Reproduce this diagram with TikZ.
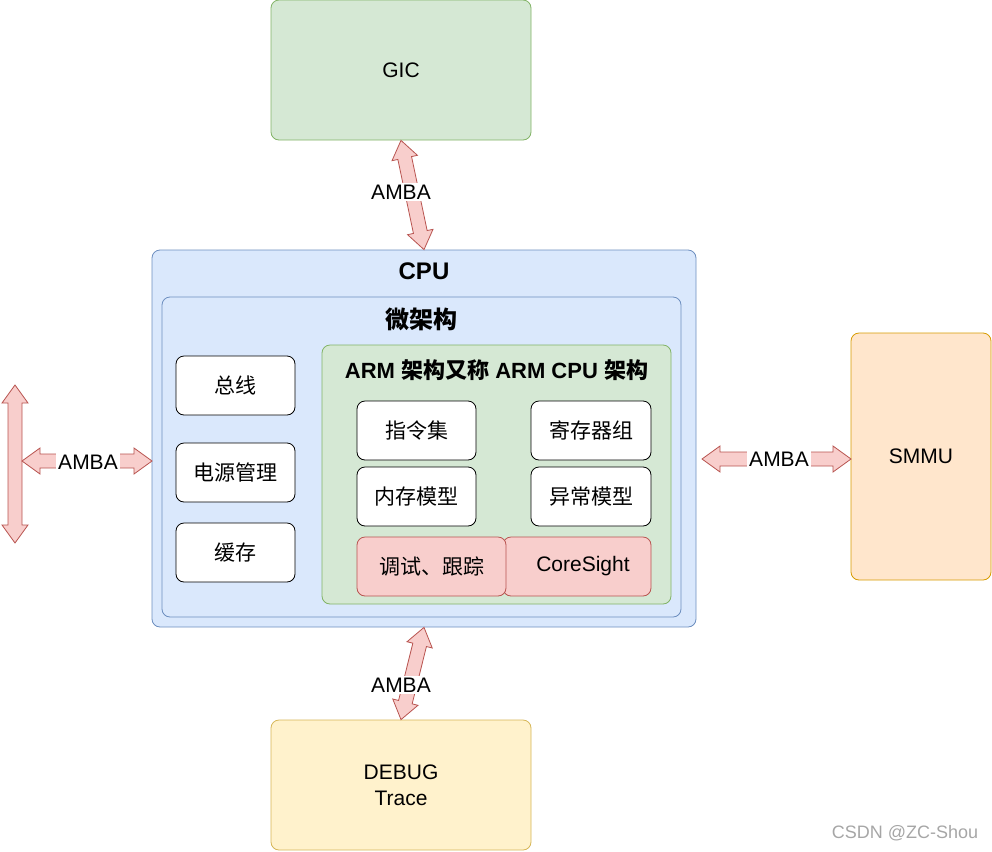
\documentclass[tikz,border=0pt]{standalone}
\usepackage{fontspec}
\setmainfont{Liberation Sans}
\newfontfamily\cjk{Noto Sans CJK SC}
\usetikzlibrary{positioning,calc}
\definecolor{grnF}{HTML}{D5E8D4}\definecolor{grnD}{HTML}{82B366}
\definecolor{bluF}{HTML}{DAE8FC}\definecolor{bluD}{HTML}{6C8EBF}
\definecolor{redF}{HTML}{F8CECC}\definecolor{redD}{HTML}{B85450}
\definecolor{orgF}{HTML}{FFE6CC}\definecolor{orgD}{HTML}{D79B00}
\definecolor{ylwF}{HTML}{FFF2CC}\definecolor{ylwD}{HTML}{D6B656}
\tikzset{
  box/.style={draw,rounded corners=4pt,inner sep=0pt,font=\fontsize{10.5}{13}\selectfont,align=center},
  wbox/.style={box,fill=white,draw=black,minimum width=59.5pt,minimum height=29.5pt},
  rbox/.style={box,fill=redF,draw=redD,minimum height=29.5pt},
  title/.style={font=\fontsize{12}{14}\selectfont\bfseries},
  flexarrow/.style={draw=redD,fill=redF,line join=miter},
  amba/.style={fill=white,inner sep=1pt,font=\fontsize{10.5}{13}\selectfont}
}
% double flex arrow between two points
\newcommand\flexarrow[2]{%
  \path (#1) coordinate (fa) (#2) coordinate (fb);
  \coordinate (fa1) at ($(fa)!9pt!(fb)$);
  \coordinate (fb1) at ($(fb)!9pt!(fa)$);
  \draw[flexarrow] (fa) -- ($(fa1)!6.5pt!90:(fb)$) -- ($(fa1)!3.5pt!90:(fb)$)
    -- ($(fb1)!3.5pt!-90:(fa)$) -- ($(fb1)!6.5pt!-90:(fa)$) -- (fb)
    -- ($(fb1)!6.5pt!90:(fa)$) -- ($(fb1)!3.5pt!90:(fa)$)
    -- ($(fa1)!3.5pt!-90:(fb)$) -- ($(fa1)!6.5pt!-90:(fb)$) -- cycle;}
\begin{document}
\begin{tikzpicture}[x=0.5pt,y=-0.5pt]
\useasboundingbox (0,0) rectangle (992,852);
% outer blocks
\node[box,fill=grnF,draw=grnD,minimum width=130pt,minimum height=70pt] (gic) at (401,70) {GIC};
\node[box,fill=orgF,draw=orgD,minimum width=70pt,minimum height=123.5pt] (smmu) at (921,456.5) {SMMU};
\node[box,fill=ylwF,draw=ylwD,minimum width=130pt,minimum height=65pt] (debug) at (401,785) {DEBUG\\Trace};
% cpu
\node[box,fill=bluF,draw=bluD,minimum width=272pt,minimum height=188.5pt] (cpu) at (424,438.5) {};
\node[title,below=3pt of cpu.north] (cputitle) {CPU};
\node[box,fill=bluF,draw=bluD,minimum width=259.5pt,minimum height=160pt] (micro) at (421.5,457) {};
\node[title,below=2pt of micro.north] (microtitle) {\cjk 微架构};
\node[wbox] (bus) at (235.5,385.5) {\cjk 总线};
\node[wbox] (power) at (235.5,472.5) {\cjk 电源管理};
\node[wbox] (cache) at (235.5,552.5) {\cjk 缓存};
% arm
\node[box,fill=grnF,draw=grnD,minimum width=174.5pt,minimum height=129.5pt] (arm) at (496.5,474.5) {};
\node[title,font=\fontsize{11}{13}\selectfont\bfseries,below=4pt of arm.north] (armtitle) {ARM {\cjk 架构又称} ARM CPU {\cjk 架构}};
\node[wbox] (isa) at (416.5,430.5) {\cjk 指令集};
\node[wbox,minimum width=60pt] (regs) at (591,430.5) {\cjk 寄存器组};
\node[wbox] (mem) at (416.5,496.5) {\cjk 内存模型};
\node[wbox,minimum width=60pt] (exc) at (591,496.5) {\cjk 异常模型};
\node[rbox,minimum width=74pt] (cs) at (577,566.5) {\hspace*{6pt}CoreSight};
\node[rbox,minimum width=74.5pt] (dbg) at (431.5,566.5) {\cjk 调试、跟踪};
% arrows
\coordinate (lt) at (15,385);
\coordinate (lb) at (15,543);
\coordinate (lh) at (22,461);
\coordinate (cw) at (152,461);
\coordinate (ce) at (702,459);
\coordinate (se) at (851,459);
\flexarrow{gic.south}{cpu.north}
\flexarrow{cpu.south}{debug.north}
\flexarrow{lt}{lb}
\flexarrow{lh}{cw}
\flexarrow{ce}{se}
\node[amba] (a1) at (401,192) {AMBA};
\node[amba] (a2) at (401,685) {AMBA};
\node[amba] (a3) at (88,462) {AMBA};
\node[amba] (a4) at (779,459) {AMBA};
\node[text=black!35,font=\fontsize{9}{11}\selectfont] (wm) at (905,833) {CSDN @ZC-Shou};
\end{tikzpicture}
\end{document}
